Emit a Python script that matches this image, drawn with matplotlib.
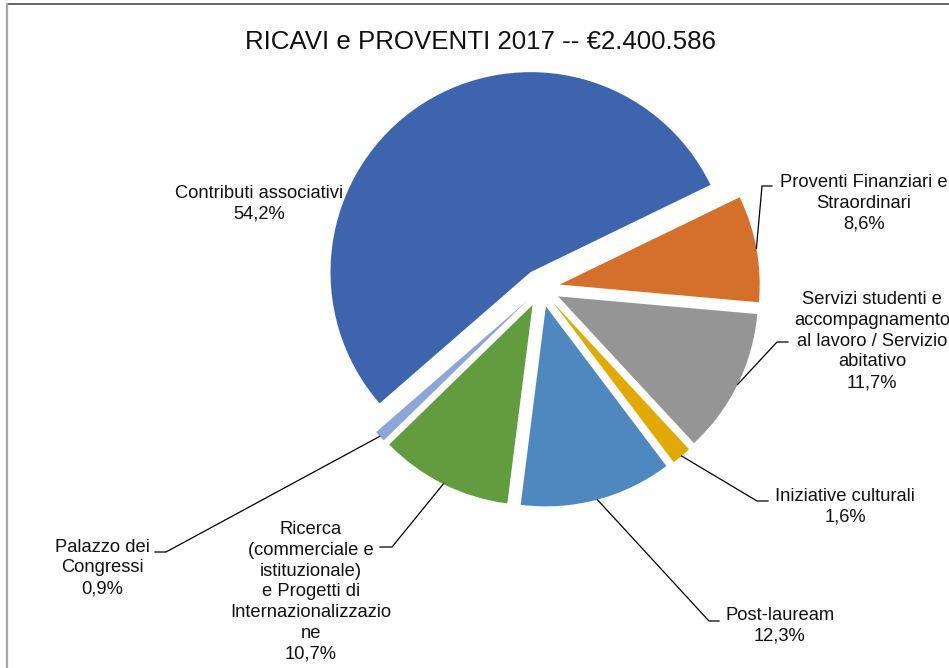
import numpy as np
import matplotlib.pyplot as plt

plt.rcParams['font.family'] = ['Liberation Sans', 'DejaVu Sans']

W, H = 949, 668

# data
labels = ["Contributi associativi",
          "Proventi Finanziari e\nStraordinari",
          "Servizi studenti e\naccompagnamento\nal lavoro / Servizio\nabitativo",
          "Iniziative culturali",
          "Post-lauream",
          "Ricerca\n(commerciale e\nistituzionale)\ne Progetti di\nInternazionalizzazio\nne",
          "Palazzo dei\nCongressi"]
values = [54.2, 8.6, 11.7, 1.6, 12.3, 10.7, 0.9]
colors = ["#3F64AE", "#D4702B", "#959595", "#E2AA00", "#4E88BF", "#629C3E", "#8EA5DA"]
title = "RICAVI e PROVENTI 2017 -- \u20ac2.400.586"

# label layout (pixel coords): text centre, knee of leader, end of leader
text_pos = [(259, 204), (864, 203), (872, 341), (845, 507), (780, 626), (311, 592), (102, 568)]
knees = [None, (762, 186), (777, 342), (757, 501), (709, 621), (392, 547), (166, 552)]
ends = [None, (772, 186), (788, 342), (768, 501), (719, 621), (380, 547), (155, 552)]

fig = plt.figure(figsize=(W / 100, H / 100), dpi=100)
ax = fig.add_axes([0, 0, 1, 1])

wedges, _ = ax.pie(values, colors=colors, radius=200, center=(541, 288),
                   startangle=139, counterclock=True, explode=[19] * len(values),
                   wedgeprops=dict(linewidth=0), frame=True)
ax.set_xlim(0, W)
ax.set_ylim(H, 0)
ax.axis('off')

for i, w in enumerate(wedges):
    txt = labels[i] + "\n" + ("%.1f%%" % values[i]).replace('.', ',')
    ax.text(text_pos[i][0], text_pos[i][1], txt, ha='center', va='center',
            fontsize=13.2, color='#111111', linespacing=1.29)
    if knees[i] is not None:
        mid = np.deg2rad((w.theta1 + w.theta2) / 2)
        px = w.center[0] + w.r * np.cos(mid)
        py = w.center[1] + w.r * np.sin(mid)
        ax.plot([px, knees[i][0], ends[i][0]], [py, knees[i][1], ends[i][1]],
                color='black', lw=0.9)

ax.text(481, 42, title, ha='center', va='center', fontsize=18.6, color='#111111')

# chart frame edges
ax.plot([7, W], [4, 4], color='#595959', lw=1.3, clip_on=False)
ax.plot([7, 7], [4, H], color='#a6a6a6', lw=1.6, clip_on=False)

fig.savefig('out.png', dpi=100)
